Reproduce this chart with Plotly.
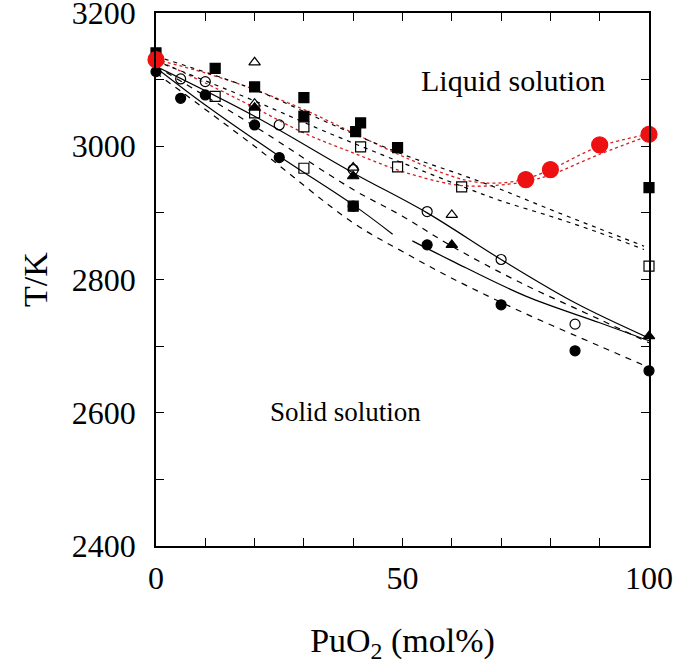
import plotly.graph_objects as go

# ---- data ----
red_x = [0, 75, 80, 90, 100]
red_y = [3130, 2950, 2965, 3002, 3018]

red_up_x = [0, 10, 20, 30, 40, 50, 60, 65, 70, 75, 80, 90, 100]
red_up_y = [3130, 3110, 3085, 3055, 3020, 2985, 2955, 2946, 2945, 2951, 2965, 3000, 3018]
red_lo_x = [0, 10, 20, 30, 40, 50, 60, 65, 70, 75, 80, 90, 100]
red_lo_y = [3130, 3095, 3058, 3020, 2990, 2962, 2943, 2940, 2942, 2947, 2957, 2988, 3016]

liqA_x = [0, 20, 35, 50, 62, 70, 80, 90, 99]
liqA_y = [3135, 3085, 3035, 2988, 2957, 2935, 2905, 2876, 2850]
liqB_x = [0, 20, 35, 50, 62, 70, 80, 90, 99]
liqB_y = [3128, 3068, 3020, 2975, 2940, 2918, 2895, 2870, 2845]

solA_x = [0, 20, 40, 55, 70, 85, 100]
solA_y = [3120, 3045, 2960, 2900, 2830, 2765, 2712]
solB1_x = [0, 10, 25, 40, 48]
solB1_y = [3118, 3062, 2985, 2912, 2868]
solB2_x = [52, 60, 75, 90, 100]
solB2_y = [2858, 2828, 2775, 2735, 2708]

dashC_x = [0, 20, 40, 50, 60, 74, 90, 100]
dashC_y = [3120, 3030, 2935, 2895, 2850, 2795, 2740, 2705]
dashD_x = [0, 20, 40, 50, 60, 74, 90, 100]
dashD_y = [3110, 3000, 2885, 2842, 2802, 2752, 2700, 2668]

fsq_x = [0, 12, 20, 30, 30, 40, 40.5, 41.5, 49, 100]
fsq_y = [3140, 3117, 3089, 3073, 3045, 2910, 3022, 3035, 2998, 2938]
osq_x = [12, 20, 30, 30, 41.5, 49, 62, 100]
osq_y = [3075, 3050, 3029, 2967, 2999, 2969, 2939, 2820]
otri_x = [20, 20, 40, 60]
otri_y = [3126, 3064, 2968, 2897]
ftri_x = [20, 40, 60, 100]
ftri_y = [3058, 2955, 2852, 2715]
ocir_x = [5, 10, 25, 40, 55, 70, 85]
ocir_y = [3101, 3097, 3032, 2965, 2902, 2830, 2733]
fcir_x = [0, 5, 10, 20, 25, 40, 55, 70, 85, 100]
fcir_y = [3112, 3072, 3077, 3032, 2983, 2910, 2852, 2762, 2693, 2663]

x_ticks = [0, 50, 100]
y_ticks = [2400, 2600, 2800, 3000, 3200]

fig = go.Figure()

def line(x, y, dash, color="black", width=1.2):
    fig.add_trace(go.Scatter(x=x, y=y, mode="lines", line=dict(color=color, width=width, dash=dash, shape="spline"),
                             showlegend=False, hoverinfo="skip"))

line(red_up_x, red_up_y, "dot", "#d62020", 1.3)
line(red_lo_x, red_lo_y, "dot", "#d62020", 1.3)
line(liqA_x, liqA_y, "4px,5px")
line(liqB_x, liqB_y, "4px,5px")
line(solA_x, solA_y, "solid")
line(solB1_x, solB1_y, "solid")
line(solB2_x, solB2_y, "solid")
line(dashC_x, dashC_y, "6px,6px")
line(dashD_x, dashD_y, "6px,6px")

def pts(x, y, symbol, size, color="black", lc="black"):
    fig.add_trace(go.Scatter(x=x, y=y, mode="markers",
                             marker=dict(symbol=symbol, size=size, color=color, line=dict(color=lc, width=1.2)),
                             showlegend=False, hoverinfo="skip", cliponaxis=False))

pts(fsq_x, fsq_y, "square", 10)
pts(osq_x, osq_y, "square-open", 10)
pts(otri_x, otri_y, "triangle-up-open", 10)
pts(ftri_x, ftri_y, "triangle-up", 10)
pts(ocir_x, ocir_y, "circle-open", 10)
pts(fcir_x, fcir_y, "circle", 10)
pts(red_x, red_y, "circle", 16, "#ee1111", "#ee1111")

font = "Liberation Serif, Times New Roman, serif"
fig.add_annotation(x=72.4, y=3099, text="Liquid solution", showarrow=False, font=dict(family=font, size=30, color="black"))
fig.add_annotation(x=38.5, y=2601, text="Solid solution", showarrow=False, font=dict(family=font, size=27, color="black"))

axis_common = dict(showline=True, linecolor="black", linewidth=1.5, mirror="ticks", ticks="inside", ticklen=8,
                   tickcolor="black", tickwidth=1.2, showgrid=False, zeroline=False, automargin=False,
                   ticklabeloverflow="allow",
                   tickfont=dict(family=font, size=32, color="black"))
fig.update_xaxes(range=[0, 100], tickvals=x_ticks, ticklabelstandoff=3,
                 minor=dict(dtick=10, ticks="inside", ticklen=8, tickcolor="black", tickwidth=1.2, showgrid=False),
                 title=dict(text="PuO<sub>2</sub> (mol%)", font=dict(family=font, size=34, color="black"), standoff=33),
                 **axis_common)
fig.update_yaxes(range=[2400, 3200], tickvals=y_ticks, ticklabelstandoff=12,
                 minor=dict(dtick=100, ticks="inside", ticklen=8, tickcolor="black", tickwidth=1.2, showgrid=False),
                 title=dict(text="T/K", font=dict(family=font, size=34, color="black"), standoff=14),
                 **axis_common)

fig.update_layout(width=673, height=670, margin=dict(l=156, r=24, t=13, b=124),
                  plot_bgcolor="white", paper_bgcolor="white")

fig.write_html("out.html", config={"displayModeBar": False},
               post_script="document.body.style.margin='0';")
